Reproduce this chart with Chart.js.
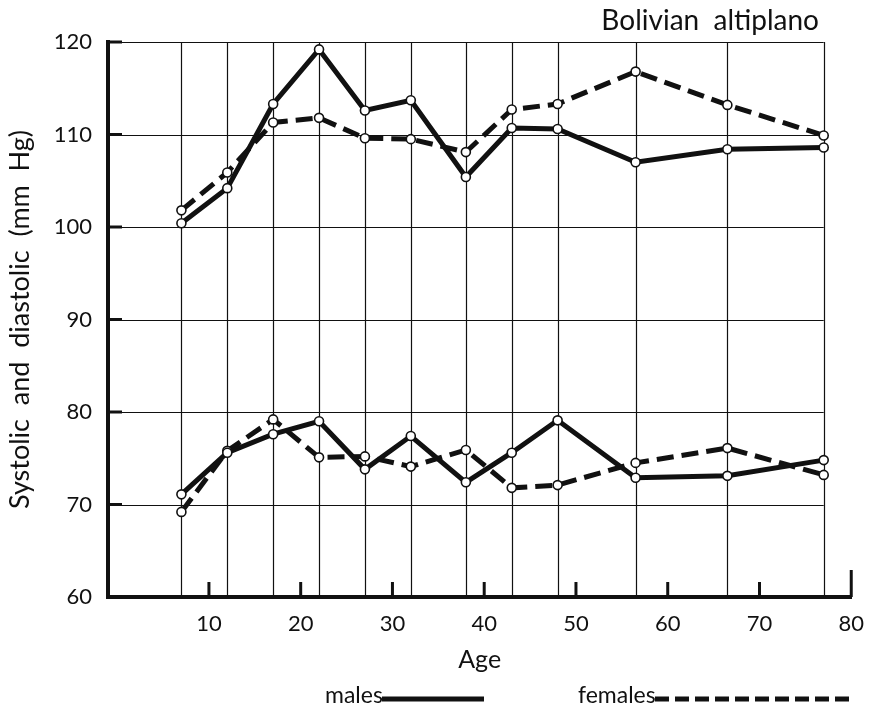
<!DOCTYPE html>
<html>
<head>
<meta charset="utf-8">
<script src="https://cdn.jsdelivr.net/npm/chart.js@4.4.0/dist/chart.umd.min.js"></script>
<style>
  html, body { margin: 0; padding: 0; background: #fff; }
  #wrap { position: relative; width: 870px; height: 711px; }
</style>
</head>
<body>
<div id="wrap"><canvas id="bpChart" width="870" height="711"></canvas></div>
<script>
// age groups (mid points)
const ages = [7, 12, 17, 22, 27, 32, 38, 43, 48, 56.5, 66.5, 77];

// systolic
const sysMales   = [100.4, 104.2, 113.3, 119.2, 112.6, 113.7, 105.4, 110.7, 110.6, 107.0, 108.4, 108.6];
const sysFemales = [101.8, 105.9, 111.3, 111.8, 109.6, 109.5, 108.1, 112.7, 113.3, 116.8, 113.2, 109.9];

// diastolic
const diaMales   = [71.1, 75.6, 77.6, 79.0, 73.8, 77.4, 72.4, 75.6, 79.1, 72.9, 73.1, 74.8];
const diaFemales = [69.2, 75.8, 79.2, 75.1, 75.2, 74.1, 75.9, 71.8, 72.1, 74.5, 76.1, 73.2];

const xTicks = [10, 20, 30, 40, 50, 60, 70, 80];
const yTicks = [60, 70, 80, 90, 100, 110, 120];

const FONT = 'Lato, "DejaVu Sans", sans-serif';
const INK = '#111';

function pts(values) {
  return ages.map((a, i) => ({ x: a, y: values[i] }));
}

function lineSet(label, values, dashed) {
  return {
    label: label,
    data: pts(values),
    borderColor: INK,
    borderWidth: 5,
    borderDash: dashed ? [17, 8] : [],
    pointRadius: 4.5,
    pointBorderWidth: 1.6,
    pointBackgroundColor: '#fff',
    pointBorderColor: INK,
    tension: 0,
    fill: false
  };
}

// paper grid + tick stubs + title + legend
const paperPlugin = {
  id: 'paper',
  beforeDatasetsDraw(chart) {
    const { ctx, scales: { x, y } } = chart;
    const xEnd = x.getPixelForValue(ages[ages.length - 1]);
    ctx.save();
    ctx.strokeStyle = INK;
    ctx.lineWidth = 1.2;
    yTicks.forEach(v => {
      const py = Math.round(y.getPixelForValue(v)) + 0.5;
      ctx.beginPath();
      ctx.moveTo(x.left, py);
      ctx.lineTo(xEnd, py);
      ctx.stroke();
    });
    ages.forEach(a => {
      const px = Math.round(x.getPixelForValue(a)) + 0.5;
      ctx.beginPath();
      ctx.moveTo(px, y.top);
      ctx.lineTo(px, y.bottom);
      ctx.stroke();
    });

    // short stubs on the axes
    ctx.lineWidth = 3;
    xTicks.forEach(v => {
      const px = x.getPixelForValue(v);
      const len = v === 80 ? 27 : 15;
      ctx.beginPath();
      ctx.moveTo(px, y.bottom);
      ctx.lineTo(px, y.bottom - len);
      ctx.stroke();
    });
    yTicks.forEach(v => {
      const py = y.getPixelForValue(v);
      ctx.beginPath();
      ctx.moveTo(x.left, py);
      ctx.lineTo(x.left + 14, py);
      ctx.stroke();
    });
    ctx.restore();
  },
  afterDraw(chart) {
    const { ctx } = chart;
    ctx.save();
    ctx.fillStyle = INK;
    ctx.textBaseline = 'alphabetic';

    ctx.font = '28px ' + FONT;
    ctx.textAlign = 'right';
    ctx.fillText('Bolivian  altiplano', 819, 30);

    // legend
    ctx.font = '23px ' + FONT;
    ctx.textAlign = 'left';
    ctx.fillText('males', 325, 703);
    ctx.strokeStyle = INK;
    ctx.lineWidth = 5;
    ctx.beginPath();
    ctx.moveTo(382, 699);
    ctx.lineTo(484, 699);
    ctx.stroke();

    ctx.fillText('females', 578, 703);
    ctx.setLineDash([14, 6]);
    ctx.beginPath();
    ctx.moveTo(655, 699);
    ctx.lineTo(855, 699);
    ctx.stroke();
    ctx.restore();
  }
};

new Chart(document.getElementById('bpChart'), {
  type: 'line',
  data: {
    datasets: [
      lineSet('males systolic', sysMales, false),
      lineSet('females systolic', sysFemales, true),
      lineSet('males diastolic', diaMales, false),
      lineSet('females diastolic', diaFemales, true)
    ]
  },
  options: {
    responsive: false,
    animation: false,
    devicePixelRatio: 1,
    layout: { padding: { top: 42, right: 17, left: 4, bottom: 36 } },
    plugins: {
      legend: { display: false },
      tooltip: { enabled: false }
    },
    scales: {
      x: {
        type: 'linear',
        min: -1,
        max: 80,
        afterBuildTicks: s => { s.ticks = xTicks.map(v => ({ value: v })); },
        afterFit: s => { s.height = 78; },
        grid: { display: false },
        border: { display: true, color: INK, width: 4 },
        ticks: { color: INK, font: { family: FONT, size: 22 }, padding: 6 },
        title: { display: true, text: 'Age', color: INK, font: { family: FONT, size: 25 }, padding: { top: 2, bottom: 0 } }
      },
      y: {
        min: 60,
        max: 120,
        afterBuildTicks: s => { s.ticks = yTicks.map(v => ({ value: v })); },
        afterFit: s => { s.width = 104; },
        grid: { display: false },
        border: { display: true, color: INK, width: 4 },
        ticks: { color: INK, font: { family: FONT, size: 22 }, padding: 8 },
        title: { display: true, text: 'Systolic  and  diastolic  (mm  Hg)', color: INK, font: { family: FONT, size: 27 }, padding: { top: 0, bottom: 2 } }
      }
    }
  },
  plugins: [paperPlugin]
});
</script>
</body>
</html>
